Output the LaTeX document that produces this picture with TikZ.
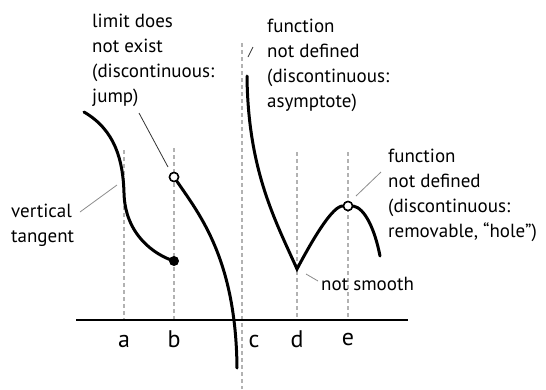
\documentclass[tikz,border=0pt]{standalone}
\usepackage{fontspec}
\setmainfont{PT Sans}
\begin{document}
\begin{tikzpicture}[x=1pt,y=-1pt,
  curve/.style={line width=3pt,line cap=round},
  guide/.style={draw=black!30,line width=1.4pt,dash pattern=on 4pt off 3pt},
  leader/.style={draw=black!45,line width=0.8pt},
  darkleader/.style={draw=black!80,line width=0.8pt},
  lbl/.style={font=\fontsize{19}{24.7}\selectfont,align=left,anchor=base west,inner sep=0pt},
  axlbl/.style={font=\fontsize{24}{28}\selectfont,anchor=base,inner sep=0pt},
  hole/.style={circle,draw=black,line width=1.5pt,fill=white,minimum size=9pt,inner sep=0pt},
  dot/.style={circle,fill=black,minimum size=10pt,inner sep=0pt}]
\useasboundingbox (0,0) rectangle (546,389);
% guides
\coordinate (ga1) at (124,150); \coordinate (ga2) at (124,320);
\coordinate (gb1) at (174,148); \coordinate (gb2) at (174,320);
\coordinate (gc1) at (242,43);  \coordinate (gc2) at (242,389);
\coordinate (gd1) at (297,152); \coordinate (gd2) at (297,320);
\coordinate (ge1) at (348,152); \coordinate (ge2) at (348,320);
\draw[guide] (ga1) -- (ga2);
\draw[guide] (gb1) -- (gb2);
\draw[guide] (gc1) -- (gc2);
\draw[guide] (gd1) -- (gd2);
\draw[guide] (ge1) -- (ge2);
% axis
\coordinate (ax1) at (76,320); \coordinate (ax2) at (408,320);
\draw[line width=2pt] (ax1) -- (ax2);
\node[axlbl] (la) at (124,347) {a};
\node[axlbl] (lb) at (174,347) {b};
\node[axlbl] (lc) at (254,347) {c};
\node[axlbl] (ld) at (297,347) {d};
\node[axlbl] (le) at (348,345) {e};
% curve 1
\coordinate (c1s) at (84,112);
\coordinate (c1v) at (124,193);
\node[dot] (dot1) at (174,261) {};
\draw[curve] (c1s) .. controls (115,130) and (123,160) .. (c1v)
  .. controls (125,235) and (155,255) .. (dot1.center);
% curve 2
\coordinate (c2e) at (237,368);
\node[hole] (hole1) at (174,177) {};
\draw[curve] (hole1) .. controls (200,215) and (236,260) .. (c2e);
% curve 3
\coordinate (c3s) at (247,76);
\coordinate (c3v) at (297,269);
\coordinate (c3e) at (380,256);
\node[hole] (hole2) at (348,206) {};
\draw[curve,line join=miter] (c3s) .. controls (248,170) and (275,220) .. (c3v)
  .. controls (315,235) and (333,206) .. (hole2.west);
\draw[curve] (hole2.east) .. controls (365,208) and (375,230) .. (c3e);
\node[hole] at (hole2) {};
\node[hole] at (hole1) {};
% labels (anchor = baseline of last line)
\node[lbl] (tlim) at (92,102) {limit does\\not exist\\(discontinuous:\\jump)};
\node[lbl] (tasy) at (267,107) {function\\not defined\\(discontinuous:\\asymptote)};
\node[lbl] (thole) at (388,237) {function\\not defined\\(discontinuous:\\removable, “hole”)};
\node[lbl] (tvert) at (11,242) {vertical\\tangent};
\node[lbl] (tsmooth) at (321,290) {not smooth};
% leaders
\coordinate (l1a) at (139,113); \coordinate (l1b) at (168,167);
\draw[darkleader] (l1a) -- (l1b);
\coordinate (l2a) at (80,212); \coordinate (l2b) at (117,185);
\draw[leader] (l2a) -- (l2b);
\coordinate (l3a) at (253,47); \coordinate (l3b) at (248,57);
\draw[darkleader] (l3a) -- (l3b);
\coordinate (l4a) at (381,172); \coordinate (l4b) at (356,196);
\draw[leader] (l4a) -- (l4b);
\coordinate (l5a) at (306,274); \coordinate (l5b) at (318,281);
\draw[leader] (l5a) -- (l5b);
\end{tikzpicture}
\end{document}
